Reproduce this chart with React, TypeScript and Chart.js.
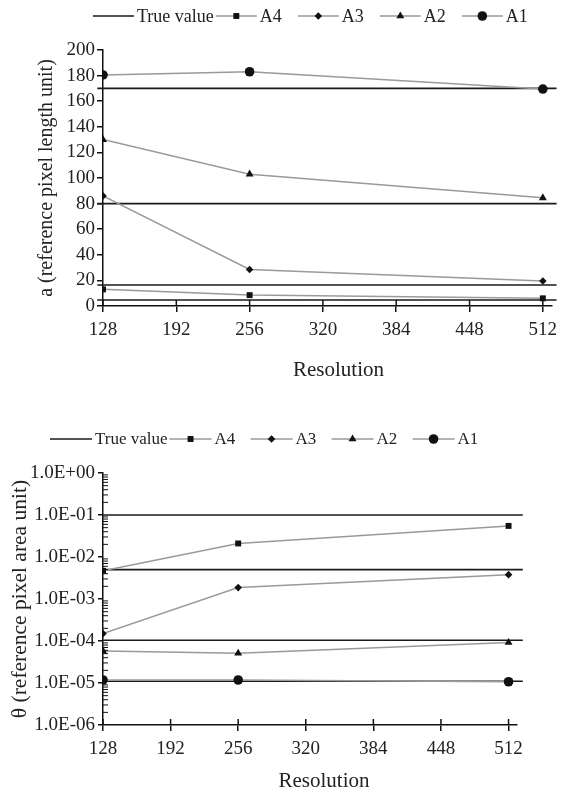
import React, { useEffect, useRef } from "react";
import { Chart, registerables } from "chart.js";

Chart.register(...registerables);

// ---------- data ----------
const resolutions = [128, 256, 512];
const xTickValues = [128, 192, 256, 320, 384, 448, 512];
const legendOrder = ["A4", "A3", "A2", "A1"];

// Top chart: a (reference pixel length unit)
const aA4 = [13, 8.5, 6];
const aA3 = [86, 28.5, 19.5];
const aA2 = [130, 103, 84.5];
const aA1 = [180.5, 183, 169.5];
const aTrueValues = [170, 80, 16.4, 4.7];
const aTickValues = [0, 20, 40, 60, 80, 100, 120, 140, 160, 180, 200];
const aTrueSpan = [123, 524];

// Bottom chart: theta (reference pixel area unit)
const tA4 = [4.7e-3, 2.1e-2, 5.5e-2];
const tA3 = [1.5e-4, 1.87e-3, 3.8e-3];
const tA2 = [5.8e-5, 5.1e-5, 9.2e-5];
const tA1 = [1.18e-5, 1.18e-5, 1.07e-5];
const tTrueValues = [1e-1, 5e-3, 1.04e-4, 1.1e-5];
const tTickValues = [1e-6, 1e-5, 1e-4, 1e-3, 1e-2, 1e-1, 1e0];
const tTrueSpan = [128, 525.5];

// ---------- styling ----------
const FONT = "'Liberation Serif', 'Times New Roman', serif";
const TEXT = "#222";
const AXIS = "#111";
const SERIES = "#9a9a9a";
const TRUE_COLOR = "#1a1a1a";

const markerStyles: Record<string, { style: string; r: number }> = {
  A4: { style: "rect", r: 4.2 },
  A3: { style: "rectRot", r: 3.8 },
  A2: { style: "triangle", r: 4.6 },
  A1: { style: "circle", r: 4.8 },
};

function drawMarker(ctx: CanvasRenderingContext2D, style: string, x: number, y: number, r: number) {
  ctx.beginPath();
  if (style === "rect") {
    const s = r * Math.SQRT1_2;
    ctx.rect(x - s, y - s, 2 * s, 2 * s);
  } else if (style === "rectRot") {
    ctx.moveTo(x, y - r);
    ctx.lineTo(x + r, y);
    ctx.lineTo(x, y + r);
    ctx.lineTo(x - r, y);
    ctx.closePath();
  } else if (style === "triangle") {
    let a = 0;
    ctx.moveTo(x + Math.sin(a) * r, y - Math.cos(a) * r);
    a += (2 * Math.PI) / 3;
    ctx.lineTo(x + Math.sin(a) * r, y - Math.cos(a) * r);
    a += (2 * Math.PI) / 3;
    ctx.lineTo(x + Math.sin(a) * r, y - Math.cos(a) * r);
    ctx.closePath();
  } else {
    ctx.arc(x, y, r, 0, Math.PI * 2);
  }
  ctx.fill();
}

const lineLegend = {
  id: "lineLegend",
  afterDraw(chart: any, _args: any, opts: any) {
    const ctx = chart.ctx as CanvasRenderingContext2D;
    ctx.save();
    ctx.font = `${opts.fontSize}px ${FONT}`;
    ctx.textBaseline = "middle";
    ctx.textAlign = "left";
    const ds = chart.data.datasets as any[];
    const items: any[] = [];
    const tv = ds.find((d) => d.isTrue);
    if (tv) items.push({ label: tv.label, color: tv.borderColor, style: null, r: 0 });
    ds.filter((d) => !d.isTrue).forEach((d) =>
      items.push({ label: d.label, color: d.borderColor, style: d.pointStyle, r: d.pointRadius })
    );
    let x = opts.x;
    const y = opts.y;
    const L = opts.lineLength;
    for (const it of items) {
      ctx.strokeStyle = it.color;
      ctx.lineWidth = 1.5;
      ctx.beginPath();
      ctx.moveTo(x, y);
      ctx.lineTo(x + L, y);
      ctx.stroke();
      if (it.style) {
        ctx.fillStyle = "#111";
        drawMarker(ctx, it.style, x + L / 2, y, it.r);
      }
      ctx.fillStyle = TEXT;
      ctx.fillText(it.label, x + L + 3, y + 1);
      const w = L + 3 + ctx.measureText(it.label).width + 2;
      x += Math.max(w, opts.minItemWidth);
    }
    ctx.restore();
  },
};

const axisExtras = {
  id: "axisExtras",
  afterDatasetsDraw(chart: any, _args: any, opts: any) {
    const ctx = chart.ctx as CanvasRenderingContext2D;
    const area = chart.chartArea;
    const xs = chart.scales.x;
    ctx.save();
    ctx.strokeStyle = AXIS;
    ctx.lineWidth = 1.5;
    // inner half of the cross ticks on the x axis
    xs.ticks.forEach((t: any) => {
      const px = xs.getPixelForValue(t.value);
      ctx.beginPath();
      ctx.moveTo(px, area.bottom);
      ctx.lineTo(px, area.bottom - opts.innerTick);
      ctx.stroke();
    });
    // minor ticks on a log y axis
    if (opts.minorLog) {
      const ys = chart.scales.y;
      ctx.lineWidth = 1;
      const e0 = Math.round(Math.log10(ys.min));
      const e1 = Math.round(Math.log10(ys.max));
      for (let e = e0; e < e1; e++) {
        for (let k = 2; k <= 9; k++) {
          const py = ys.getPixelForValue(k * Math.pow(10, e));
          ctx.beginPath();
          ctx.moveTo(area.left, py);
          ctx.lineTo(area.left + 5, py);
          ctx.stroke();
        }
      }
    }
    // x axis title
    ctx.fillStyle = TEXT;
    ctx.font = `${opts.titleSize}px ${FONT}`;
    ctx.textAlign = "center";
    ctx.textBaseline = "middle";
    ctx.fillText(opts.xTitle, (area.left + area.right) / 2 + opts.titleDx, opts.titleY);
    ctx.restore();
  },
};

function seriesDatasets(values: Record<string, number[]>) {
  return legendOrder.map((name) => ({
    label: name,
    data: resolutions.map((r, i) => ({ x: r, y: values[name][i] })),
    borderColor: SERIES,
    borderWidth: 1.5,
    pointStyle: markerStyles[name].style,
    pointRadius: markerStyles[name].r,
    pointBackgroundColor: "#111",
    pointBorderColor: "#111",
    pointBorderWidth: 0,
    fill: false,
    tension: 0,
  }));
}

function trueDatasets(values: number[], span: number[]) {
  return values.map((v) => ({
    label: "True value",
    isTrue: true,
    data: [
      { x: span[0], y: v },
      { x: span[1], y: v },
    ],
    borderColor: TRUE_COLOR,
    borderWidth: 1.6,
    pointRadius: 0,
    clip: false,
    fill: false,
  }));
}

function fmtExp(v: number) {
  const e = Math.round(Math.log10(v));
  return `1.0E${e < 0 ? "-" : "+"}${String(Math.abs(e)).padStart(2, "0")}`;
}

function topConfig(): any {
  return {
    type: "line",
    data: {
      datasets: [
        ...seriesDatasets({ A4: aA4, A3: aA3, A2: aA2, A1: aA1 }),
        ...trueDatasets(aTrueValues, aTrueSpan),
      ],
    },
    options: {
      responsive: false,
      animation: false,
      layout: { padding: { top: 50, right: 13, left: 0, bottom: 0 } },
      plugins: {
        legend: { display: false },
        tooltip: { enabled: false },
        lineLegend: { x: 93, y: 16, fontSize: 18, lineLength: 41, minItemWidth: 82 },
        axisExtras: { innerTick: 6, minorLog: false, xTitle: "Resolution", titleSize: 21, titleDx: 11, titleY: 370 },
      },
      scales: {
        x: {
          type: "linear",
          min: 128,
          max: 520,
          afterBuildTicks: (s: any) => {
            s.ticks = xTickValues.map((v) => ({ value: v }));
          },
          afterFit: (s: any) => {
            s.height = 94;
            s.paddingLeft = 0;
            s.paddingRight = 0;
          },
          grid: { drawOnChartArea: false, drawTicks: true, tickLength: 6, color: AXIS, lineWidth: 1.5 },
          border: { display: true, color: AXIS, width: 1.5 },
          ticks: { color: TEXT, font: { family: FONT, size: 19 }, padding: 7, maxRotation: 0, autoSkip: false },
        },
        y: {
          type: "linear",
          min: 0,
          max: 200,
          afterBuildTicks: (s: any) => {
            s.ticks = aTickValues.map((v) => ({ value: v }));
          },
          afterFit: (s: any) => {
            s.width = 103;
            s.paddingTop = 0;
            s.paddingBottom = 0;
          },
          grid: { drawOnChartArea: false, drawTicks: true, tickLength: 6, color: AXIS, lineWidth: 1.5 },
          border: { display: true, color: AXIS, width: 1.5 },
          ticks: { color: TEXT, font: { family: FONT, size: 19 }, padding: 2, autoSkip: false },
          title: {
            display: true,
            text: "a (reference pixel length unit)",
            color: TEXT,
            font: { family: FONT, size: 20 },
            padding: { top: 35, bottom: 0 },
          },
        },
      },
    },
    plugins: [lineLegend, axisExtras],
  };
}

function bottomConfig(): any {
  return {
    type: "line",
    data: {
      datasets: [
        ...seriesDatasets({ A4: tA4, A3: tA3, A2: tA2, A1: tA1 }),
        ...trueDatasets(tTrueValues, tTrueSpan),
      ],
    },
    options: {
      responsive: false,
      animation: false,
      layout: { padding: { top: 73, right: 48, left: 0, bottom: 0 } },
      plugins: {
        legend: { display: false },
        tooltip: { enabled: false },
        lineLegend: { x: 50, y: 39, fontSize: 17, lineLength: 42, minItemWidth: 81 },
        axisExtras: { innerTick: 6, minorLog: true, xTitle: "Resolution", titleSize: 21, titleDx: 14, titleY: 381 },
      },
      scales: {
        x: {
          type: "linear",
          min: 128,
          max: 520,
          afterBuildTicks: (s: any) => {
            s.ticks = xTickValues.map((v) => ({ value: v }));
          },
          afterFit: (s: any) => {
            s.height = 69;
            s.paddingLeft = 0;
            s.paddingRight = 0;
          },
          grid: { drawOnChartArea: false, drawTicks: true, tickLength: 6, color: AXIS, lineWidth: 1.5 },
          border: { display: true, color: AXIS, width: 1.5 },
          ticks: { color: TEXT, font: { family: FONT, size: 19 }, padding: 7, maxRotation: 0, autoSkip: false },
        },
        y: {
          type: "logarithmic",
          min: 1e-6,
          max: 1,
          afterBuildTicks: (s: any) => {
            s.ticks = tTickValues.map((v) => ({ value: v }));
          },
          afterFit: (s: any) => {
            s.width = 103;
            s.paddingTop = 0;
            s.paddingBottom = 0;
          },
          grid: { drawOnChartArea: false, drawTicks: true, tickLength: 5, color: AXIS, lineWidth: 1.5 },
          border: { display: true, color: AXIS, width: 1.5 },
          ticks: {
            color: TEXT,
            font: { family: FONT, size: 19 },
            padding: 3,
            autoSkip: false,
            callback: (v: any) => fmtExp(Number(v)),
          },
          title: {
            display: true,
            text: "θ (reference pixel area unit)",
            color: TEXT,
            font: { family: FONT, size: 21.5 },
            padding: { top: 7, bottom: 0 },
          },
        },
      },
    },
    plugins: [lineLegend, axisExtras],
  };
}

export default function App() {
  const topRef = useRef<HTMLCanvasElement>(null);
  const botRef = useRef<HTMLCanvasElement>(null);

  useEffect(() => {
    const c1 = new Chart(topRef.current as HTMLCanvasElement, topConfig());
    const c2 = new Chart(botRef.current as HTMLCanvasElement, bottomConfig());
    return () => {
      c1.destroy();
      c2.destroy();
    };
  }, []);

  return (
    <div style={{ position: "absolute", left: 0, top: 0, width: 565, height: 794, background: "#fff" }}>
      <div style={{ position: "absolute", left: 0, top: 0, width: 565, height: 400 }}>
        <canvas ref={topRef} width={565} height={400} style={{ display: "block" }} />
      </div>
      <div style={{ position: "absolute", left: 0, top: 400, width: 565, height: 394 }}>
        <canvas ref={botRef} width={565} height={394} style={{ display: "block" }} />
      </div>
    </div>
  );
}
